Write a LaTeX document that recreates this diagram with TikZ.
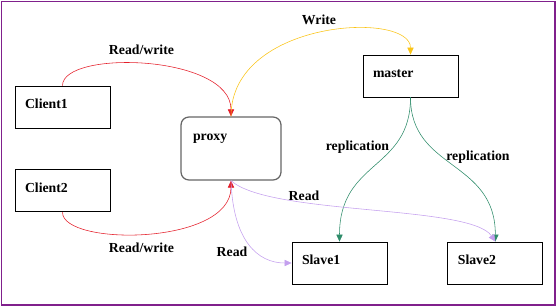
\documentclass[tikz,border=0pt]{standalone}
\usepackage{fontspec}
\setmainfont{Liberation Serif}
\usetikzlibrary{arrows.meta,positioning,calc}

\definecolor{frame}{RGB}{128,32,140}
\definecolor{rw}{RGB}{228,30,42}
\definecolor{wr}{RGB}{250,196,24}
\definecolor{rep}{RGB}{46,140,106}
\definecolor{rd}{RGB}{196,160,238}

\begin{document}
\begin{tikzpicture}[>={Triangle[length=5pt,width=4.5pt]},
 font=\fontsize{9.8}{11.8}\selectfont\bfseries,
 box/.style={draw, line width=0.6pt, align=left, text width=1.875cm, inner xsep=0.25cm,
   minimum height=1.05cm, text height=0.3cm, text depth=0.22cm},
 lbl/.style={anchor=base, inner sep=0pt}]
\useasboundingbox (0,0) rectangle (13.925,7.675);
\draw[frame, line width=1.4pt] (0.0375,0.05) rectangle (13.875,7.6375);

\node[box] (client1) at (1.5625,5.0) {Client1};
\node[box, below=1.025cm of client1] (client2) {Client2};
\node[box, draw=black!60, line width=0.9pt, rounded corners=0.2cm, minimum height=1.575cm,
  text width=1.9cm, inner xsep=0.3cm, text depth=0.72cm] (proxy) at (5.775,3.9625) {proxy};
\node[box] (master) at (10.2625,5.775) {master};
\node[box] (slave1) at (8.4875,1.1) {Slave1};
\node[box, right=1.5cm of slave1] (slave2) {Slave2};

\draw[->, rw] (client1.north) .. controls +(0,0.9) and +(0,1.55) .. (proxy.north);
\draw[->, rw] (client2.south) .. controls +(0,-0.85) and +(0,-1.625) .. (proxy.south);
\draw[->, wr] (proxy.north) .. controls +(0,2.425) and +(0,1.1) .. (master.north);
\draw[->, rep] (master.south) .. controls +(0,-1.825) and +(0,2.05) .. (slave1.north);
\draw[->, rep] (master.south) .. controls +(0,-1.825) and +(0,2.05) .. (slave2.north);
\draw[->, rd] (proxy.south) .. controls +(0.975,-0.875) and +(-0.625,0.925) .. (slave2.north);
\draw[->, rd] (proxy.south) .. controls +(0.05,-1.5) and +(-0.85,0) .. (slave1.west);

\node[lbl] (rw1) at (3.5375,6.3125) {Read/write};
\node[lbl] (rw2) at (3.5375,1.375) {Read/write};
\node[lbl] (write) at (7.975,7.0625) {Write};
\node[lbl] (rep1) at (8.9375,3.9125) {replication};
\node[lbl] (rep2) at (11.95,3.675) {replication};
\node[lbl] (read1) at (7.6,2.675) {Read};
\node[lbl] (read2) at (5.8,1.2625) {Read};
\end{tikzpicture}
\end{document}
